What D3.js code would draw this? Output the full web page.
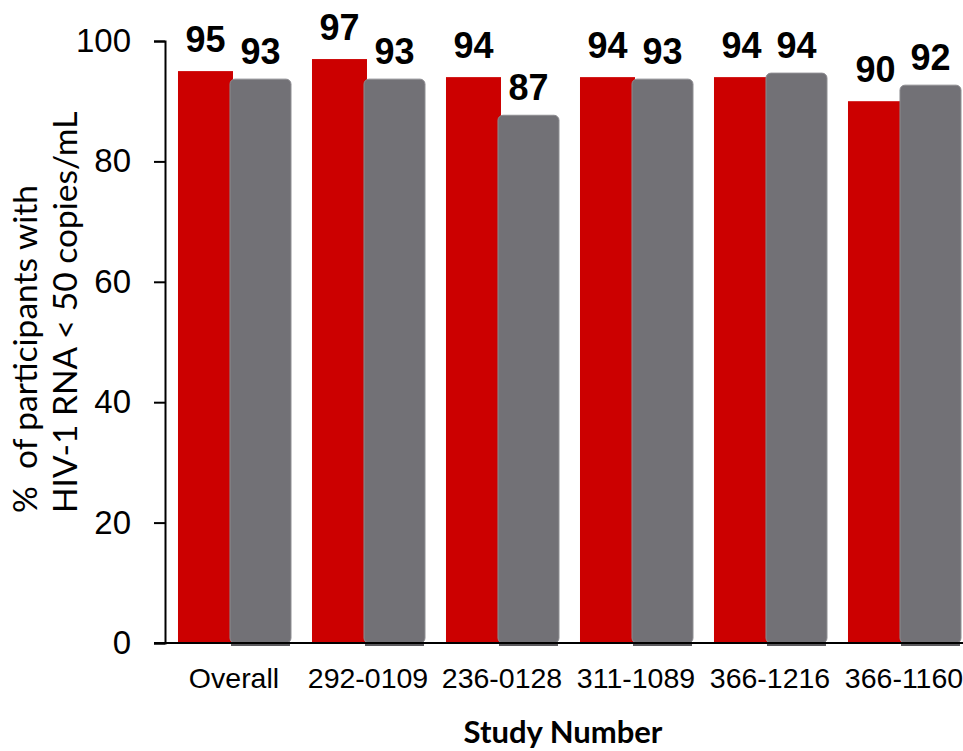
<!DOCTYPE html>
<html>
<head>
<meta charset="utf-8">
<script src="https://cdn.jsdelivr.net/npm/d3@7"></script>
<style>
  html, body { margin: 0; padding: 0; background: #fff; }
  svg { display: block; }
</style>
</head>
<body>
<svg id="chart" width="963" height="751"></svg>
<script>
// Study categories and the two series (% with HIV-1 RNA < 50 copies/mL)
const studies = ["Overall", "292-0109", "236-0128", "311-1089", "366-1216", "366-1160"];
const seriesA = [95, 97, 94, 94, 94, 90];   // red bars
const seriesB = [93, 93, 87, 93, 94, 92];   // grey bars
const yTicks = [0, 20, 40, 60, 80, 100];

const svg = d3.select("#chart");

const baseY = 643, topY = 41, axisX = 165;

const y = d3.scaleLinear().domain([0, 100]).range([baseY, topY]);

const x0 = d3.scaleBand()
  .domain(studies)
  .range([167, 971])
  .paddingInner(0.164)
  .paddingOuter(0.082);

const x1 = d3.scaleBand()
  .domain(["a", "b"])
  .range([0, 110]);

const rows = studies.map((s, i) => ({ study: s, a: seriesA[i], b: seriesB[i] }));

const groups = svg.append("g")
  .selectAll("g")
  .data(rows)
  .join("g")
  .attr("transform", d => `translate(${x0(d.study)},0)`);

// red bars
groups.append("rect")
  .attr("x", x1("a"))
  .attr("y", d => y(d.a))
  .attr("width", x1.bandwidth())
  .attr("height", d => baseY - y(d.a))
  .attr("fill", "#cc0000");

// grey bars: thin shadow strip under the baseline, then the rounded bar body
groups.append("rect")
  .attr("x", x1("b") - 2)
  .attr("y", baseY - 2)
  .attr("width", x1.bandwidth() + 4)
  .attr("height", 5)
  .attr("fill", "#5a595d");

groups.append("rect")
  .attr("x", x1("b") - 3)
  .attr("y", d => y(d.b) - 4)
  .attr("width", x1.bandwidth() + 6)
  .attr("height", d => baseY - y(d.b) + 4)
  .attr("rx", 5)
  .attr("fill", "#727176")
  .attr("stroke", "#8d8c91")
  .attr("stroke-width", 1);

// value labels
const valueFont = "'Liberation Sans', Arial, sans-serif";
groups.append("text")
  .attr("x", x1("a") + x1.bandwidth() / 2)
  .attr("y", d => y(d.a) - 19)
  .attr("text-anchor", "middle")
  .attr("font-family", valueFont)
  .attr("font-weight", "bold")
  .attr("font-size", 36)
  .attr("fill", "#000")
  .text(d => d.a);

groups.append("text")
  .attr("x", x1("b") + x1.bandwidth() / 2)
  .attr("y", d => y(d.b) - 19)
  .attr("text-anchor", "middle")
  .attr("font-family", valueFont)
  .attr("font-weight", "bold")
  .attr("font-size", 36)
  .attr("fill", "#000")
  .text(d => d.b);

// y axis
const yAxis = d3.axisLeft(y)
  .tickValues(yTicks)
  .tickSize(11)
  .tickSizeOuter(11)
  .tickPadding(23);

const gy = svg.append("g")
  .attr("transform", `translate(${axisX},0)`)
  .call(yAxis);
gy.select(".domain").attr("stroke", "#000").attr("stroke-width", 2);
gy.selectAll(".tick line").attr("stroke", "#000").attr("stroke-width", 2);
gy.selectAll(".tick text")
  .attr("font-family", valueFont)
  .attr("font-size", 33)
  .attr("fill", "#000");

// x axis baseline
svg.append("line")
  .attr("x1", axisX - 11)
  .attr("x2", 963)
  .attr("y1", baseY)
  .attr("y2", baseY)
  .attr("stroke", "#000")
  .attr("stroke-width", 2);

// category labels
const xAxis = d3.axisBottom(x0).tickSize(0);
const gx = svg.append("g")
  .attr("transform", `translate(0,${baseY})`)
  .call(xAxis);
gx.select(".domain").remove();
gx.selectAll(".tick text")
  .attr("y", 45)
  .attr("dy", 0)
  .attr("font-family", valueFont)
  .attr("font-size", 28.5)
  .attr("fill", "#000");

// axis titles
const titleFont = "Lato, 'Open Sans', sans-serif";
const yTitle = svg.append("text")
  .attr("transform", "rotate(-90)")
  .attr("font-family", titleFont)
  .attr("font-size", 33.5)
  .attr("fill", "#000")
  .attr("text-anchor", "start");
yTitle.append("tspan")
  .attr("x", -513).attr("y", 37)
  .style("white-space", "pre")
  .text("%  of participants with");
yTitle.append("tspan")
  .attr("x", -513).attr("y", 77)
  .text("HIV-1 RNA < 50 copies/mL");

svg.append("text")
  .attr("x", 563)
  .attr("y", 743)
  .attr("text-anchor", "middle")
  .attr("font-family", titleFont)
  .attr("font-weight", "bold")
  .attr("font-size", 31)
  .attr("fill", "#000")
  .text("Study Number");
</script>
</body>
</html>
